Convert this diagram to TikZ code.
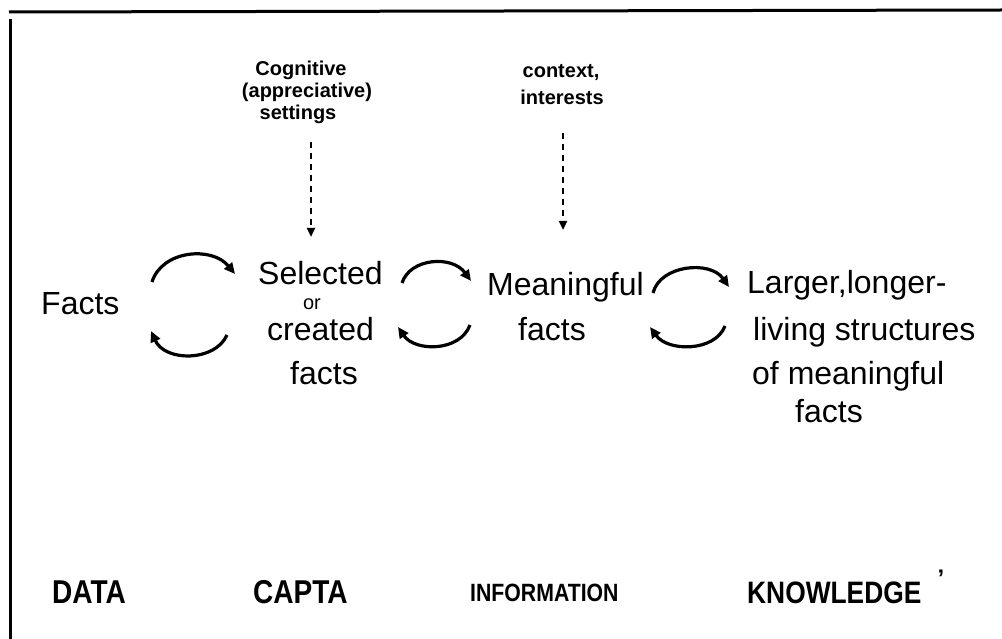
\documentclass[tikz,border=0pt]{standalone}
\usepackage{fontspec}
\setmainfont{Liberation Sans}
\newfontfamily\capsfont[FakeStretch=0.85]{Liberation Sans}
\usetikzlibrary{arrows.meta}
\begin{document}
\begin{tikzpicture}[x=1pt,y=-1pt,
  hand/.style={inner sep=0pt, anchor=base west, font=\fontsize{32}{36}\selectfont},
  remark/.style={inner sep=0pt, anchor=base, font=\bfseries\fontsize{20}{24}\selectfont},
  stage/.style={inner sep=0pt, anchor=base west, font=\capsfont\bfseries\fontsize{#1}{#1}\selectfont},
  turn/.style={line width=3.2pt, -{Triangle[length=11pt,width=10pt]}},
  feed/.style={line width=2.4pt, dash pattern=on 6pt off 5pt, -{Triangle[length=9pt,width=8pt]}},
  rule/.style={line width=3pt}]
\useasboundingbox (0,0) rectangle (1002,639);

% open frame: top and left edges
\coordinate (ftl) at (9,12);
\coordinate (ftr) at (1002,10);
\coordinate (flt) at (10,19);
\coordinate (flb) at (10,639);
\draw[rule] (ftl) -- (ftr);
\draw[rule] (flt) -- (flb);

% stage 1
\node[hand] (facts) at (41,314) {Facts};

% stage 2
\node[hand] (sel) at (258,285) {Selected};
\node[inner sep=0pt, anchor=base, font=\fontsize{20}{22}\selectfont] (or) at (312,309) {or};
\node[hand] (created) at (267,340) {created};
\node[hand] (sfacts) at (290,384) {facts};

% stage 3
\node[hand] (mean) at (487,295) {Meaningful};
\node[hand] (mfacts) at (518,341) {facts};

% stage 4
\node[hand] (larger) at (747,294) {Larger,longer-};
\node[hand] (living) at (753,340) {living structures};
\node[hand] (ofmean) at (752,384) {of meaningful};
\node[hand] (kfacts) at (795,422) {facts};

% influences from above
\node[remark] (cog) at (301,76) {Cognitive};
\node[remark] (appr) at (307,98) {(appreciative)};
\node[remark] (sett) at (298,120) {settings};
\node[remark] (ctx) at (561,78) {context,};
\node[remark] (intr) at (562,105) {interests};

\coordinate (d1s) at (311,142);
\coordinate (d1e) at (311,237);
\coordinate (d2s) at (563,133);
\coordinate (d2e) at (563,230);
\draw[feed] (d1s) -- (d1e);
\draw[feed] (d2s) -- (d2e);

% cycles between stages
\coordinate (a1s) at (152,282); \coordinate (a1e) at (235,274);
\coordinate (b1s) at (227,335); \coordinate (b1e) at (151,331);
\coordinate (a2s) at (402,283); \coordinate (a2e) at (471,281);
\coordinate (b2s) at (470,325); \coordinate (b2e) at (398,327);
\coordinate (a3s) at (653,293); \coordinate (a3e) at (729,287);
\coordinate (b3s) at (725,326); \coordinate (b3e) at (650,327);

\draw[turn] (a1s) .. controls (162,250) and (212,246) .. (a1e);
\draw[turn] (b1s) .. controls (215,362) and (165,362) .. (b1e);
\draw[turn] (a2s) .. controls (410,258) and (452,255) .. (a2e);
\draw[turn] (b2s) .. controls (460,352) and (415,352) .. (b2e);
\draw[turn] (a3s) .. controls (660,265) and (710,260) .. (a3e);
\draw[turn] (b3s) .. controls (715,352) and (668,352) .. (b3e);

% stage names
\node[stage=33] (data) at (52,603) {DATA};
\node[stage=33] (capta) at (253,603) {CAPTA};
\node[stage=25] (info) at (470,601) {INFORMATION};
\node[stage=31] (know) at (747,603) {KNOWLEDGE};
\node[inner sep=0pt, anchor=base, font=\bfseries\fontsize{24}{24}\selectfont] (tick) at (941,586) {'};
\end{tikzpicture}
\end{document}
